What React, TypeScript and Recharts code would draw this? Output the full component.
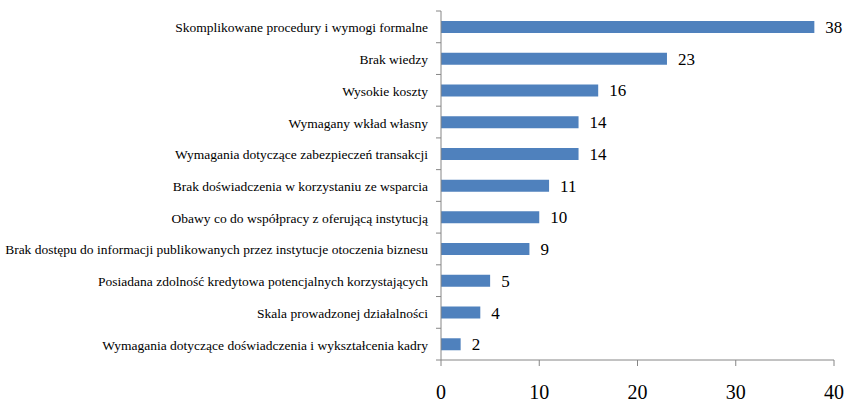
import React from "react";
import {
  BarChart,
  Bar,
  XAxis,
  YAxis,
  LabelList,
} from "recharts";

const CATEGORIES = [
  "Skomplikowane procedury i wymogi formalne",
  "Brak wiedzy",
  "Wysokie koszty",
  "Wymagany wkład własny",
  "Wymagania dotyczące zabezpieczeń transakcji",
  "Brak doświadczenia w  korzystaniu ze wsparcia",
  "Obawy co do współpracy z oferującą instytucją",
  "Brak dostępu do informacji publikowanych przez instytucje otoczenia biznesu",
  "Posiadana zdolność kredytowa potencjalnych korzystających",
  "Skala prowadzonej działalności",
  "Wymagania dotyczące doświadczenia i wykształcenia kadry",
];

const VALUES = [38, 23, 16, 14, 14, 11, 10, 9, 5, 4, 2];

const X_TICKS = [0, 10, 20, 30, 40];

const data = CATEGORIES.map((name, i) => ({ name, value: VALUES[i] }));

const WIDTH = 848;
const HEIGHT = 404;
const X_AXIS_HEIGHT = 44;
const MARGIN = { top: 11, right: 14, bottom: 0, left: 0 };
const Y_AXIS_WIDTH = 441;
const FONT = "'Liberation Serif', 'Times New Roman', serif";
const AXIS_COLOR = "#868686";

const BAND =
  (HEIGHT - MARGIN.top - MARGIN.bottom - X_AXIS_HEIGHT) / CATEGORIES.length;

// category label plus an Excel-style tick mark on the band boundary
function CategoryTick(props: any) {
  const { x, y, payload, index } = props;
  const axisX = x + 8;
  const top = y - BAND / 2;
  const isLast = index === CATEGORIES.length - 1;
  return (
    <g>
      <line x1={axisX - 5} x2={axisX} y1={top} y2={top} stroke={AXIS_COLOR} />
      {isLast && (
        <line
          x1={axisX - 5}
          x2={axisX}
          y1={top + BAND}
          y2={top + BAND}
          stroke={AXIS_COLOR}
        />
      )}
      <text
        x={axisX - 13}
        y={y}
        dy={5.5}
        textAnchor="end"
        style={{ fontFamily: FONT, fontSize: 13.5, fill: "#000" }}
      >
        {payload.value}
      </text>
    </g>
  );
}

function ValueTick(props: any) {
  const { x, y, payload } = props;
  return (
    <text
      x={x}
      y={y}
      dy={31}
      textAnchor="middle"
      style={{ fontFamily: FONT, fontSize: 20, fill: "#000" }}
    >
      {payload.value}
    </text>
  );
}

export default function App() {
  return (
    <div style={{ position: "absolute", left: 0, top: 0, background: "#fff" }}>
      <BarChart
        width={WIDTH}
        height={HEIGHT}
        data={data}
        layout="vertical"
        margin={MARGIN}
        barSize={12}
      >
        <XAxis
          type="number"
          domain={[0, 40]}
          ticks={X_TICKS}
          interval={0}
          height={X_AXIS_HEIGHT}
          axisLine={{ stroke: AXIS_COLOR }}
          tickLine={{ stroke: AXIS_COLOR }}
          tickSize={6}
          tickMargin={2}
          tick={<ValueTick />}
        />
        <YAxis
          type="category"
          dataKey="name"
          width={Y_AXIS_WIDTH}
          interval={0}
          axisLine={{ stroke: AXIS_COLOR }}
          tickLine={false}
          tickSize={0}
          tickMargin={8}
          tick={<CategoryTick />}
        />
        <Bar dataKey="value" fill="#4F81BD" isAnimationActive={false}>
          <LabelList
            dataKey="value"
            position="right"
            offset={11}
            style={{ fontFamily: FONT, fontSize: 17, fill: "#000" }}
          />
        </Bar>
      </BarChart>
    </div>
  );
}
